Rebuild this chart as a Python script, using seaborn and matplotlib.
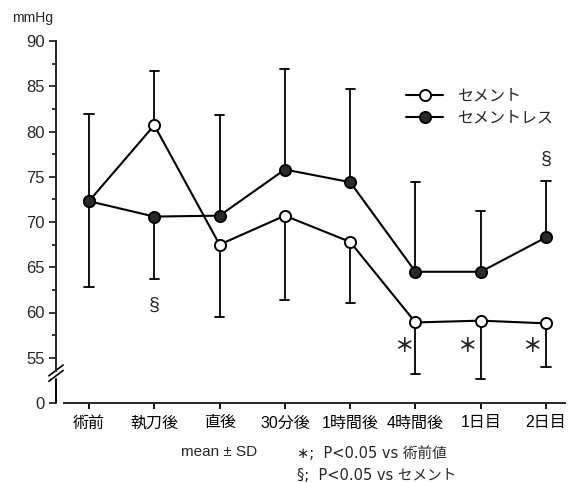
import numpy as np
import pandas as pd
import matplotlib
matplotlib.use("Agg")
import matplotlib.pyplot as plt
from matplotlib.lines import Line2D
from matplotlib.ticker import FixedLocator
import seaborn as sns

# Datos
TIEMPOS = ["術前", "執刀後", "直後", "30分後", "1時間後", "4時間後", "1日目", "2日目"]
CEMENTO = [72.3, 80.7, 67.5, 70.7, 67.8, 58.9, 59.1, 58.8]
SIN_CEMENTO = [72.3, 70.6, 70.7, 75.8, 74.4, 64.5, 64.5, 68.3]
# errores: cada grupo tiene la barra solo hacia un lado
CEMENTO_SUP = [81.9, 86.7, None, None, None, None, None, None]
CEMENTO_INF = [None, None, 59.5, 61.4, 61.1, 53.2, 52.7, 54.0]
SIN_CEM_SUP = [None, None, 81.8, 86.9, 84.7, 74.4, 71.2, 74.5]
SIN_CEM_INF = [62.8, 63.7, None, None, None, None, None, None]

ETIQUETAS_Y = ["0", "55", "60", "65", "70", "75", "80", "85", "90"]
VALORES_Y = [50, 55, 60, 65, 70, 75, 80, 85, 90]

sns.set_style("ticks")
plt.rcParams["font.family"] = ["Liberation Sans", "Noto Sans CJK JP", "DejaVu Sans"]

df = pd.DataFrame({
    "pos": list(range(len(TIEMPOS))) * 2,
    "valor": CEMENTO + SIN_CEMENTO,
    "grupo": ["セメント"] * len(TIEMPOS) + ["セメントレス"] * len(TIEMPOS),
})

fig = plt.figure(figsize=(5.8, 4.83), dpi=100)
ax = fig.add_axes([56 / 580, 1 - 403 / 483, (565 - 56) / 580, (403 - 41) / 483])

pos = np.arange(len(TIEMPOS))


def barras(sup, inf, medias):
    for i, m in enumerate(medias):
        for lim in (sup[i], inf[i]):
            if lim is None:
                continue
            ax.plot([i, i], [m, lim], color="black", lw=1.3, zorder=1)
            ax.plot([i - 0.07, i + 0.07], [lim, lim], color="black", lw=1.3, zorder=1)


barras(CEMENTO_SUP, CEMENTO_INF, CEMENTO)
barras(SIN_CEM_SUP, SIN_CEM_INF, SIN_CEMENTO)

sns.lineplot(data=df[df["grupo"] == "セメント"], x="pos", y="valor", color="black",
             marker="o", markersize=8, markerfacecolor="white", markeredgecolor="black",
             markeredgewidth=1.4, lw=1.5, ax=ax, zorder=3, legend=False)
sns.lineplot(data=df[df["grupo"] == "セメントレス"], x="pos", y="valor", color="black",
             marker="o", markersize=8, markerfacecolor="#2a2a2a", markeredgecolor="black",
             markeredgewidth=1.4, lw=1.5, ax=ax, zorder=3, legend=False)

ax.set_xlim(-0.505, 7.29)
ax.set_ylim(50, 90)
ax.set_xticks(pos)
ax.set_xticklabels(TIEMPOS, fontsize=11.5)
ax.set_yticks(VALORES_Y)
ax.set_yticklabels(ETIQUETAS_Y, fontsize=12)
ax.yaxis.set_minor_locator(FixedLocator(np.arange(57.5, 90, 5)))
ax.tick_params(axis="x", direction="out", length=4, width=1.3, pad=5, colors="black")
ax.tick_params(axis="y", which="major", direction="out", length=5, width=1.3, pad=3)
ax.tick_params(axis="y", which="minor", direction="out", length=3, width=1.3)
ax.set_xlabel("")
ax.set_ylabel("")

sns.despine(ax=ax)
ax.spines["bottom"].set_bounds(-0.38, 7.29)
ax.spines["bottom"].set_linewidth(1.4)
ax.spines["left"].set_bounds(53.5, 90)
ax.spines["left"].set_linewidth(1.4)

# tramo inferior del eje y y simbolo de corte
x_eje = -0.505
ax.plot([x_eje, x_eje], [50, 52.6], color="black", lw=1.4, clip_on=False)
for dy in (0, 0.6):
    ax.plot([x_eje - 0.11, x_eje + 0.11], [52.4 + dy, 53.6 + dy], color="black", lw=1.2, clip_on=False)

# anotaciones
ax.text(1, 60.75, "§", ha="center", va="center", fontsize=14)
ax.text(7, 76.9, "§", ha="center", va="center", fontsize=14)
for xs in (4.82, 5.79, 6.78):
    ax.text(xs, 56.25, "＊", ha="center", va="center", fontsize=14, fontweight="bold",
            family=["Noto Sans CJK JP", "DejaVu Sans"])

handles = [
    Line2D([], [], color="black", lw=1.5, marker="o", markersize=8,
           markerfacecolor="white", markeredgecolor="black", markeredgewidth=1.4),
    Line2D([], [], color="black", lw=1.5, marker="o", markersize=8,
           markerfacecolor="#2a2a2a", markeredgecolor="black", markeredgewidth=1.4),
]
fig.legend(handles, ["セメント", "セメントレス"], loc="upper left",
           bbox_to_anchor=(392 / 580, 1 - 74 / 483), frameon=False, fontsize=11.5,
           handlelength=2.3, handletextpad=0.9, labelspacing=0.45)

fig.text(12 / 580, 1 - 18 / 483, "mmHg", fontsize=10, va="center", ha="left")
fig.text(219 / 580, 1 - 452 / 483, "mean ± SD", fontsize=11, va="center", ha="center")
fig.text(297 / 580, 1 - 454 / 483, "∗;  P<0.05 vs 術前値", fontsize=10.5, va="center", ha="left",
         family=["DejaVu Sans", "Noto Sans CJK JP"])
fig.text(297 / 580, 1 - 475 / 483, "§;  P<0.05 vs セメント", fontsize=10.5, va="center", ha="left",
         family=["DejaVu Sans", "Noto Sans CJK JP"])

fig.savefig("out.png", dpi=100, facecolor="white")
plt.close(fig)
